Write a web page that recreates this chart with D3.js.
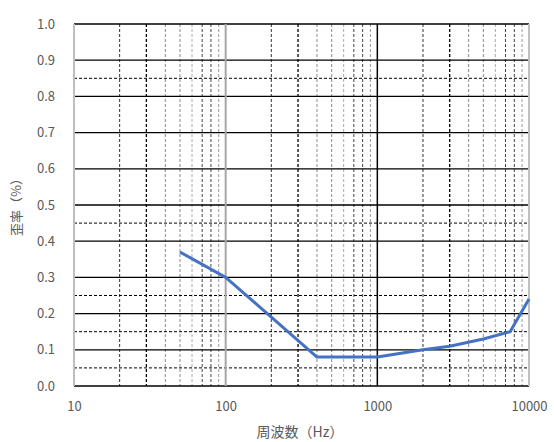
<!DOCTYPE html>
<html>
<head>
<meta charset="utf-8">
<script src="https://cdn.jsdelivr.net/npm/d3@7/dist/d3.min.js"></script>
<style>
  html, body { margin: 0; padding: 0; background: #fff; }
  svg { display: block; }
  text { font-family: "Noto Sans CJK JP", "Open Sans", sans-serif; fill: #595959; }
</style>
</head>
<body>
<svg id="chart" width="554" height="442"></svg>
<script>
// Distortion vs. frequency
const freqs = [50, 100, 200, 400, 1000, 2000, 3000, 5000, 7500, 10000];
const distortion = [0.37, 0.30, 0.19, 0.08, 0.08, 0.10, 0.11, 0.13, 0.15, 0.24];
const xTicks = [10, 100, 1000, 10000];
const yTicks = [0, 0.1, 0.2, 0.3, 0.4, 0.5, 0.6, 0.7, 0.8, 0.9, 1.0];
const yDashed = [0.05, 0.15, 0.25, 0.45, 0.85];
const xTitle = "周波数（Hz）";
const yTitle = "歪率（%）";

const svg = d3.select("#chart");
const plotLeft = 74, plotRight = 529, plotTop = 24, plotBottom = 386;

const x = d3.scaleLog().domain([10, 10000]).range([plotLeft, plotRight]);
const y = d3.scaleLinear().domain([0, 1]).range([plotBottom, plotTop]);

const grid = svg.append("g");

// minor vertical gridlines (2..9 within each decade)
const minorColor = {2: "#333", 3: "#000", 4: "#888", 5: "#888", 6: "#aaa", 7: "#444", 8: "#444", 9: "#999"};
[10, 100, 1000].forEach(dec => {
  for (let m = 2; m <= 9; m++) {
    const v = dec * m;
    grid.append("line")
      .attr("x1", x(v)).attr("x2", x(v))
      .attr("y1", y(1)).attr("y2", y(0))
      .attr("stroke", minorColor[m])
      .attr("stroke-width", m === 3 ? 1.3 : 1)
      .attr("stroke-dasharray", "3,2");
  }
});

// dashed horizontal gridlines
yDashed.forEach(v => {
  grid.append("line")
    .attr("x1", plotLeft).attr("x2", plotRight)
    .attr("y1", y(v)).attr("y2", y(v))
    .attr("stroke", "#000").attr("stroke-width", 1)
    .attr("stroke-dasharray", "3,2");
});

// solid horizontal gridlines
yTicks.forEach(v => {
  grid.append("line")
    .attr("x1", plotLeft).attr("x2", plotRight)
    .attr("y1", y(v)).attr("y2", y(v))
    .attr("stroke", "#000").attr("stroke-width", 1.3);
});

// decade lines
const decadeStyle = {10: ["#bfbfbf", 2], 100: ["#a6a6a6", 2], 1000: ["#000", 1.5], 10000: ["#bfbfbf", 2]};
xTicks.forEach(v => {
  grid.append("line")
    .attr("x1", x(v)).attr("x2", x(v))
    .attr("y1", y(1)).attr("y2", y(0))
    .attr("stroke", decadeStyle[v][0])
    .attr("stroke-width", decadeStyle[v][1]);
});

// tick labels via d3 axes
const xAxis = svg.append("g")
  .attr("transform", `translate(0,${plotBottom})`)
  .call(d3.axisBottom(x).tickValues(xTicks).tickFormat(d3.format("d")).tickSize(0).tickPadding(16));
xAxis.select(".domain").remove();
xAxis.selectAll("text").attr("font-size", 13).style("fill", "#595959")
  .style("font-family", "\"Noto Sans CJK JP\", sans-serif");

const yAxis = svg.append("g")
  .attr("transform", `translate(${plotLeft},0)`)
  .call(d3.axisLeft(y).tickValues(yTicks).tickFormat(d3.format(".1f")).tickSize(0).tickPadding(19));
yAxis.select(".domain").remove();
yAxis.selectAll("text").attr("font-size", 13).style("fill", "#595959")
  .style("font-family", "\"Noto Sans CJK JP\", sans-serif");

// data line
const line = d3.line().x((d, i) => x(freqs[i])).y(d => y(d));
svg.append("path")
  .datum(distortion)
  .attr("d", line)
  .attr("fill", "none")
  .attr("stroke", "#4472C4")
  .attr("stroke-width", 3)
  .attr("stroke-linejoin", "round");

// axis titles
svg.append("text")
  .attr("x", 300).attr("y", 437)
  .attr("text-anchor", "middle")
  .attr("font-size", 14)
  .text(xTitle);

svg.append("text")
  .attr("transform", "translate(21,204) rotate(-90)")
  .attr("text-anchor", "middle")
  .attr("font-size", 13)
  .text(yTitle);
</script>
</body>
</html>
